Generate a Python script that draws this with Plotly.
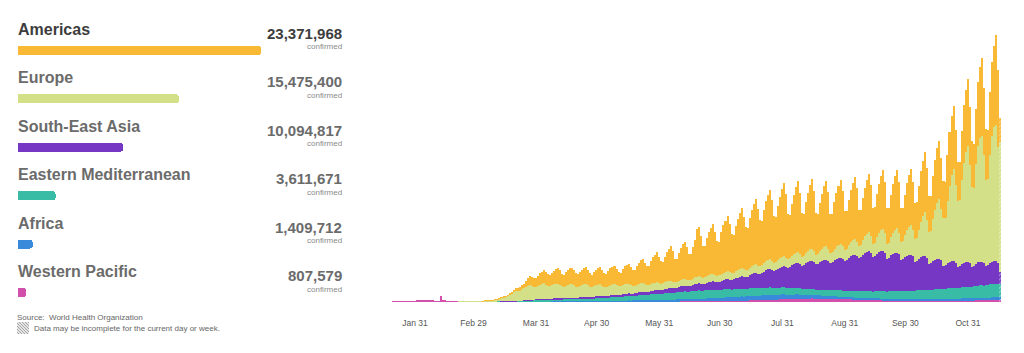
import plotly.graph_objects as go
import pandas as pd

# ---------------- data (daily new confirmed cases, thousands) ----------------
start_date = "2020-01-20"

regions = ["Americas", "Europe", "South-East Asia", "Eastern Mediterranean", "Africa", "Western Pacific"]
totals = [23371968, 15475400, 10094817, 3611671, 1409712, 807579]
total_labels = ["23,371,968", "15,475,400", "10,094,817", "3,611,671", "1,409,712", "807,579"]
colors = ["#F9B935", "#D3E087", "#7637C4", "#38BCA5", "#3A8ADC", "#D250AC"]

tick_dates = ["2020-01-31", "2020-02-29", "2020-03-31", "2020-04-30", "2020-05-31",
              "2020-06-30", "2020-07-31", "2020-08-31", "2020-09-30", "2020-10-31"]
tick_labels = ["Jan 31", "Feb 29", "Mar 31", "Apr 30", "May 31",
               "Jun 30", "Jul 31", "Aug 31", "Sep 30", "Oct 31"]

amr = [
    0, 0, 0, 0, 0, 0, 0,
    0, 0, 0, 0, 0, 0, 0,
    0, 0, 0, 0, 0, 0, 0,
    0, 0, 0, 0, 0, 0, 0,
    0, 0, 0, 0, 0, 0, 0,
    0, 0, 0, 0, 0, 0, 0,
    0, 0, 0, 0.1, 0.1, 0.1, 0.1,
    0.2, 0.2, 0.3, 0.4, 0.6, 0.8, 1.0,
    1.2, 1.6, 2.2, 3.5, 5.0, 7.0, 8.5,
    9, 11, 12, 16, 19, 21, 22,
    21, 22, 25, 28, 31, 34, 32,
    29, 28, 31, 34, 37, 40, 36,
    32, 30, 33, 36, 39, 41, 37,
    33, 31, 34, 37, 40, 42, 38,
    33, 31, 35, 38, 41, 43, 39,
    34, 32, 37, 41, 44, 45, 41,
    36, 34, 40, 45, 48, 50, 45,
    41, 39, 47, 53, 58, 60, 53,
    48, 46, 56, 64, 70, 76, 66,
    56, 53, 64, 73, 80, 86, 76,
    59, 57, 69, 79, 87, 93, 82,
    66, 64, 79, 94, 118, 124, 104,
    80, 77, 94, 108, 116, 124, 108,
    88, 84, 104, 118, 128, 138, 120,
    98, 93, 113, 128, 140, 150, 130,
    108, 103, 123, 140, 153, 163, 143,
    116, 110, 133, 150, 163, 173, 153,
    118, 113, 136, 153, 168, 183, 158,
    113, 108, 130, 148, 163, 176, 153,
    110, 106, 128, 146, 160, 173, 150,
    104, 99, 121, 138, 152, 163, 143,
    99, 95, 117, 133, 148, 158, 138,
    97, 94, 114, 130, 143, 155, 136,
    89, 87, 106, 122, 134, 145, 127,
    90, 88, 108, 124, 136, 147, 129,
    89, 87, 106, 122, 134, 144, 127,
    86, 84, 102, 118, 128, 138, 121,
    90, 88, 109, 127, 139, 150, 131,
    88, 86, 107, 124, 136, 145, 128,
    93, 90, 115, 134, 146, 157, 137,
    99, 96, 122, 144, 156, 168, 147,
    113, 108, 137, 161, 176, 195, 168,
    128, 123, 157, 186, 202, 225, 192,
    60,
]

eur = [
    0, 0, 0, 0, 0, 0, 0,
    0, 0, 0, 0, 0, 0, 0,
    0, 0, 0, 0, 0, 0, 0,
    0, 0, 0, 0, 0, 0, 0,
    0, 0, 0, 0, 0, 0.02, 0.05,
    0.1, 0.1, 0.15, 0.2, 0.3, 0.35, 0.4,
    0.5, 0.6, 0.9, 1.1, 1.5, 2.0, 2.5,
    3.0, 3.5, 4.5, 5.5, 7.0, 9.0, 10.5,
    11, 13, 16, 18, 22, 26, 24,
    25, 28, 30, 33, 36, 38, 35,
    32, 31, 34, 36, 37, 38, 35,
    32, 31, 33, 35, 36, 36, 34,
    30, 29, 31, 33, 34, 34, 32,
    28, 27, 29, 31, 32, 32, 30,
    26, 25, 27, 28, 29, 29, 27,
    24, 23, 25, 26, 27, 27, 25,
    22, 21, 23, 24, 24, 24, 22,
    19, 19, 20, 21, 21, 21, 20,
    17, 17, 18, 19, 19, 19, 18,
    16, 16, 17, 18, 18, 18, 17,
    15, 15, 16, 17, 17, 17, 16,
    15, 15, 16, 17, 18, 18, 17,
    16, 16, 17, 18, 18, 19, 17,
    16, 16, 17, 18, 19, 19, 18,
    17, 17, 18, 19, 20, 20, 19,
    18, 18, 19, 20, 21, 21, 20,
    19, 19, 21, 22, 23, 24, 22,
    20, 20, 22, 24, 25, 26, 24,
    21, 21, 23, 25, 26, 27, 25,
    22, 22, 25, 27, 29, 30, 27,
    24, 24, 27, 30, 32, 33, 30,
    25, 25, 29, 32, 34, 35, 32,
    27, 27, 31, 35, 38, 40, 35,
    30, 30, 36, 41, 45, 48, 42,
    34, 34, 41, 47, 52, 55, 48,
    38, 38, 46, 53, 58, 62, 54,
    44, 44, 54, 63, 70, 75, 66,
    58, 58, 72, 88, 100, 110, 95,
    82, 82, 105, 125, 140, 150, 128,
    120, 118, 155, 190, 215, 230, 195,
    165, 165, 210, 250, 275, 290, 245,
    200, 195, 250, 290, 310, 315, 270,
    215, 215, 270, 315, 335, 340, 290,
    325,
]

sear = [
    0, 0, 0, 0, 0, 0, 0,
    0, 0, 0, 0, 0, 0, 0,
    0, 0, 0, 0, 0, 0, 0,
    0, 0, 0, 0, 0, 0, 0,
    0, 0, 0, 0, 0, 0, 0,
    0, 0, 0, 0, 0, 0, 0,
    0, 0, 0, 0, 0, 0, 0,
    0, 0, 0, 0, 0, 0.1, 0.1,
    0.1, 0.1, 0.1, 0.2, 0.2, 0.3, 0.3,
    0.4, 0.4, 0.5, 0.6, 0.7, 0.8, 0.8,
    0.9, 1.0, 1.2, 1.5, 1.6, 1.8, 1.7,
    1.6, 1.7, 1.9, 2.0, 2.1, 2.2, 2.0,
    2.0, 2.1, 2.3, 2.5, 2.6, 2.7, 2.5,
    2.6, 2.7, 2.9, 3.1, 3.2, 3.3, 3.1,
    3.2, 3.3, 3.5, 3.8, 4.0, 4.2, 3.9,
    4.0, 4.3, 4.6, 5.0, 5.3, 5.5, 5.1,
    5.0, 5.2, 5.6, 6.0, 6.3, 6.5, 6.1,
    6.2, 6.5, 7.0, 7.5, 8.0, 8.2, 7.6,
    7.7, 8.0, 8.5, 9.0, 9.5, 9.8, 9.2,
    9.5, 9.8, 10.5, 11, 11.5, 12, 11.3,
    11.5, 12, 12.8, 13.5, 14, 14.5, 13.8,
    13.5, 14, 15, 16, 17, 17.5, 16.5,
    16.5, 17, 18.5, 19.5, 20.5, 21, 20,
    20, 21, 22.5, 24, 25, 26, 24.5,
    24, 25, 27, 28.5, 30, 31, 29.5,
    29, 30, 33, 35, 37, 38, 36,
    36, 38, 41, 44, 46, 47, 45,
    42, 44, 47, 50, 52, 53, 51,
    52, 54, 57, 60, 62, 63, 61,
    58, 60, 64, 67, 69, 70, 68,
    63, 65, 69, 72, 74, 75, 73,
    68, 70, 75, 78, 80, 82, 79,
    76, 78, 83, 87, 89, 91, 88,
    84, 86, 92, 96, 98, 100, 96,
    86, 88, 94, 98, 100, 101, 97,
    82, 84, 90, 93, 95, 96, 92,
    78, 80, 85, 88, 90, 90, 86,
    72, 74, 79, 82, 84, 84, 80,
    64, 66, 71, 74, 76, 76, 72,
    57, 59, 64, 66, 68, 68, 64,
    52, 54, 58, 61, 62, 62, 59,
    50, 52, 56, 58, 59, 59, 56,
    47, 49, 53, 55, 56, 56, 53,
    30,
]

emr = [
    0, 0, 0, 0, 0, 0, 0,
    0, 0, 0, 0, 0, 0, 0,
    0, 0, 0, 0, 0, 0, 0,
    0, 0, 0, 0, 0, 0, 0,
    0, 0, 0, 0, 0, 0, 0,
    0, 0.01, 0.02, 0.05, 0.1, 0.12, 0.15,
    0.3, 0.4, 0.6, 0.6, 1.0, 1.1, 1.2,
    0.6, 0.9, 1.1, 1.1, 1.2, 1.5, 1.4,
    1.4, 1.6, 1.5, 1.6, 1.9, 1.6, 1.8,
    1.9, 2.1, 2.3, 2.6, 3.0, 3.4, 3.3,
    3.4, 3.6, 3.8, 4.0, 4.2, 4.3, 4.2,
    4.1, 4.2, 4.3, 4.4, 4.5, 4.6, 4.4,
    4.6, 4.8, 5.0, 5.2, 5.5, 5.6, 5.4,
    5.6, 5.8, 6.0, 6.3, 6.6, 6.8, 6.5,
    6.8, 7.0, 7.3, 7.6, 7.9, 8.1, 7.8,
    8.0, 8.3, 8.6, 9.0, 9.3, 9.5, 9.1,
    9.5, 9.8, 10.2, 10.6, 11, 11.2, 10.8,
    11.2, 11.6, 12, 12.5, 13, 13.2, 12.8,
    13, 13.5, 14, 14.5, 15, 15.3, 14.8,
    15, 15.5, 16, 16.5, 17, 17.3, 16.8,
    17, 17.5, 18, 18.5, 19, 19.3, 18.8,
    19, 19.5, 20, 20.3, 20.6, 20.8, 20.3,
    20, 20.3, 20.6, 20.8, 21, 21, 20.5,
    19.5, 19.8, 20, 20.2, 20.3, 20.3, 19.8,
    19, 19.2, 19.4, 19.5, 19.6, 19.6, 19.2,
    18.5, 18.6, 18.8, 18.9, 19, 19, 18.6,
    17.8, 18, 18.2, 18.3, 18.4, 18.4, 18,
    17, 17.2, 17.4, 17.5, 17.6, 17.6, 17.2,
    16, 16.2, 16.4, 16.5, 16.6, 16.6, 16.2,
    15, 15.2, 15.4, 15.5, 15.6, 15.6, 15.2,
    14.5, 14.6, 14.8, 14.9, 15, 15, 14.7,
    14.5, 14.7, 15, 15.2, 15.4, 15.5, 15.2,
    15, 15.3, 15.6, 15.9, 16.2, 16.4, 16,
    16, 16.3, 16.7, 17, 17.3, 17.5, 17.1,
    17, 17.3, 17.7, 18, 18.3, 18.5, 18.1,
    18, 18.4, 18.8, 19.2, 19.5, 19.7, 19.3,
    19.5, 19.9, 20.3, 20.7, 21, 21.2, 20.8,
    21, 21.4, 21.8, 22.2, 22.5, 22.7, 22.3,
    22.5, 23, 23.5, 24, 24.3, 24.5, 24,
    24.5, 25, 25.5, 26, 26.4, 26.6, 26,
    26.5, 27, 27.6, 28.2, 28.6, 28.8, 28.2,
    29, 29.5, 30.2, 30.8, 31.2, 31.4, 30.8,
    32, 32.5, 33.2, 33.8, 34.2, 34.4, 33.8,
    34,
]

afr = [
    0, 0, 0, 0, 0, 0, 0,
    0, 0, 0, 0, 0, 0, 0,
    0, 0, 0, 0, 0, 0, 0,
    0, 0, 0, 0, 0, 0, 0,
    0, 0, 0, 0, 0, 0, 0,
    0, 0, 0, 0, 0, 0, 0,
    0, 0, 0, 0, 0, 0.01, 0.01,
    0.01, 0.02, 0.02, 0.03, 0.03, 0.05, 0.05,
    0.06, 0.08, 0.1, 0.12, 0.15, 0.2, 0.2,
    0.25, 0.3, 0.3, 0.35, 0.4, 0.4, 0.4,
    0.4, 0.45, 0.5, 0.5, 0.55, 0.5, 0.5,
    0.5, 0.5, 0.55, 0.6, 0.6, 0.6, 0.6,
    0.6, 0.65, 0.7, 0.7, 0.75, 0.8, 0.8,
    0.9, 0.9, 1.0, 1.0, 1.1, 1.1, 1.1,
    1.2, 1.2, 1.3, 1.4, 1.4, 1.5, 1.5,
    1.6, 1.7, 1.8, 1.9, 2.0, 2.0, 2.0,
    2.1, 2.2, 2.3, 2.4, 2.5, 2.5, 2.5,
    2.6, 2.7, 2.8, 2.9, 3.0, 3.1, 3.1,
    3.2, 3.3, 3.4, 3.5, 3.6, 3.7, 3.7,
    3.8, 3.9, 4.0, 4.2, 4.3, 4.4, 4.4,
    4.5, 4.6, 4.8, 5.0, 5.1, 5.2, 5.2,
    5.3, 5.5, 5.7, 5.9, 6.0, 6.2, 6.2,
    6.3, 6.5, 6.8, 7.0, 7.2, 7.4, 7.4,
    7.6, 7.8, 8.1, 8.4, 8.6, 8.8, 8.8,
    9.0, 9.3, 9.6, 9.9, 10.1, 10.3, 10.3,
    10.5, 10.8, 11.1, 11.4, 11.6, 11.8, 11.8,
    11.8, 12.0, 12.2, 12.4, 12.5, 12.6, 12.5,
    12, 12, 12.1, 12.2, 12.2, 12.2, 12,
    11.4, 11.3, 11.2, 11.1, 11, 10.9, 10.7,
    10, 9.8, 9.6, 9.4, 9.2, 9.0, 8.8,
    8.2, 8.0, 7.8, 7.6, 7.4, 7.2, 7.0,
    6.6, 6.4, 6.2, 6.0, 5.9, 5.8, 5.6,
    5.3, 5.2, 5.1, 5.0, 4.9, 4.8, 4.7,
    4.5, 4.4, 4.3, 4.2, 4.2, 4.1, 4.0,
    3.9, 3.9, 3.8, 3.8, 3.7, 3.7, 3.6,
    3.5, 3.5, 3.4, 3.4, 3.4, 3.3, 3.3,
    3.2, 3.2, 3.2, 3.2, 3.2, 3.2, 3.2,
    3.2, 3.3, 3.3, 3.4, 3.4, 3.5, 3.5,
    3.5, 3.6, 3.6, 3.7, 3.7, 3.8, 3.8,
    3.8, 3.9, 4.0, 4.0, 4.1, 4.1, 4.2,
    4.2, 4.3, 4.4, 4.4, 4.5, 4.6, 4.6,
    4.7, 4.8, 4.9, 5.0, 5.1, 5.1, 5.2,
    5.3, 5.4, 5.5, 5.6, 5.7, 5.8, 5.8,
    5.5,
]

wpr = [
    0.1, 0.15, 0.15, 0.26, 0.45, 0.69, 0.77,
    1.77, 1.46, 1.74, 1.98, 2.1, 2.6, 2.83,
    3.24, 3.89, 3.7, 3.15, 3.4, 2.66, 3.0,
    2.48, 2.02, 1.82, 15.1, 5.1, 2.64, 2.01,
    2.05, 1.89, 1.75, 0.82, 0.89, 0.65, 0.65,
    0.41, 0.51, 0.41, 0.43, 0.33, 0.43, 0.6,
    0.7, 0.8, 0.6, 0.6, 0.5, 0.5, 0.4,
    0.3, 0.3, 0.25, 0.2, 0.2, 0.2, 0.2,
    0.2, 0.25, 0.3, 0.35, 0.4, 0.5, 0.5,
    0.6, 0.7, 0.8, 0.9, 1.0, 1.1, 1.1,
    1.2, 1.3, 1.4, 1.5, 1.6, 1.7, 1.6,
    1.8, 1.9, 2.0, 2.1, 2.2, 2.2, 2.0,
    2.0, 2.1, 2.1, 2.0, 2.0, 1.9, 1.8,
    1.6, 1.5, 1.5, 1.4, 1.4, 1.3, 1.2,
    1.2, 1.1, 1.1, 1.0, 1.0, 1.0, 0.9,
    0.9, 0.9, 1.0, 1.0, 1.0, 1.1, 1.0,
    1.1, 1.1, 1.2, 1.2, 1.2, 1.3, 1.2,
    1.2, 1.3, 1.3, 1.3, 1.4, 1.4, 1.3,
    1.3, 1.4, 1.4, 1.5, 1.5, 1.5, 1.4,
    1.5, 1.6, 1.6, 1.7, 1.7, 1.8, 1.7,
    1.7, 1.8, 1.8, 1.9, 1.9, 2.0, 1.9,
    1.9, 2.0, 2.0, 2.1, 2.1, 2.2, 2.1,
    2.1, 2.2, 2.3, 2.3, 2.4, 2.5, 2.4,
    2.4, 2.5, 2.6, 2.7, 2.8, 2.9, 2.8,
    2.9, 3.0, 3.1, 3.3, 3.4, 3.5, 3.4,
    3.5, 3.7, 3.9, 4.1, 4.2, 4.4, 4.2,
    4.4, 4.6, 4.8, 5.1, 5.3, 5.5, 5.3,
    5.5, 5.8, 6.1, 6.4, 6.7, 6.9, 6.6,
    6.8, 7.0, 7.3, 7.6, 7.9, 8.1, 7.8,
    7.9, 8.1, 8.3, 8.5, 8.7, 8.8, 8.5,
    8.3, 8.4, 8.5, 8.6, 8.7, 8.7, 8.4,
    8.0, 7.9, 7.9, 7.8, 7.7, 7.6, 7.3,
    6.9, 6.8, 6.7, 6.6, 6.5, 6.4, 6.1,
    5.8, 5.7, 5.7, 5.6, 5.6, 5.5, 5.3,
    5.1, 5.1, 5.0, 5.0, 5.0, 4.9, 4.7,
    4.6, 4.6, 4.5, 4.5, 4.5, 4.5, 4.3,
    4.2, 4.2, 4.2, 4.2, 4.2, 4.3, 4.1,
    4.0, 4.1, 4.1, 4.2, 4.2, 4.3, 4.1,
    4.0, 4.1, 4.1, 4.2, 4.2, 4.3, 4.1,
    4.1, 4.2, 4.3, 4.4, 4.4, 4.5, 4.3,
    4.3, 4.4, 4.5, 4.6, 4.7, 4.8, 4.6,
    4.7, 4.8, 5.0, 5.1, 5.2, 5.3, 5.1,
    5.2, 5.4, 5.6, 5.8, 5.9, 6.0, 5.8,
    6.0,
]

series = [amr, eur, sear, emr, afr, wpr]
n_days = len(amr)
for s in series:
    assert len(s) == n_days, len(s)
dates = pd.date_range(start_date, periods=n_days).strftime("%Y-%m-%d").tolist()

# ---------------- layout helpers (pixels -> paper) ----------------
W, H = 1024, 353
def px_x(x):
    return x / W
def px_y(y):
    return 1 - y / H

base = pd.Timestamp("2020-01-31")
px_per_day = 2.018
r0 = base + pd.Timedelta(days=(375 - 415) / px_per_day)
r1 = base + pd.Timedelta(days=(1010 - 415) / px_per_day)

fig = go.Figure()

# stacked daily bars: bottom to top
order = [5, 4, 3, 2, 1, 0]
pattern_shapes = [""] * (n_days - 1) + ["/"]
for i in order:
    fig.add_trace(go.Bar(
        x=dates, y=series[i], name=regions[i],
        marker=dict(color=colors[i], line=dict(width=0),
                    pattern=dict(shape=pattern_shapes, fgcolor="white", size=3, solidity=0.35)),
        hoverinfo="skip", showlegend=False,
        xaxis="x", yaxis="y",
    ))

# left summary bars
fig.add_trace(go.Bar(
    x=totals, y=list(range(len(regions))), orientation="h",
    width=0.186,
    marker=dict(color=colors, cornerradius=3, line=dict(width=0)),
    hoverinfo="skip", showlegend=False,
    xaxis="x2", yaxis="y2",
))

annotations = []
name_colors = ["#3d3d3d"] + ["#6b6b6b"] * 5
for i, reg in enumerate(regions):
    annotations.append(dict(
        x=px_x(16), xref="paper", y=i, yref="y2", yshift=21,
        text=f"<b>{reg}</b>", showarrow=False, xanchor="left", yanchor="middle",
        font=dict(family="Liberation Sans, Arial, sans-serif", size=16, color=name_colors[i]),
    ))
    annotations.append(dict(
        x=px_x(344), xref="paper", y=i, yref="y2", yshift=17,
        text=f"<b>{total_labels[i]}</b>", showarrow=False, xanchor="right", yanchor="middle",
        font=dict(family="Liberation Sans, Arial, sans-serif", size=15, color=name_colors[i]),
    ))
    annotations.append(dict(
        x=px_x(344), xref="paper", y=i, yref="y2", yshift=3.5,
        text="confirmed", showarrow=False, xanchor="right", yanchor="middle",
        font=dict(family="Liberation Sans, Arial, sans-serif", size=8, color="#8a8a8a"),
    ))

annotations.append(dict(
    x=px_x(15), xref="paper", y=px_y(317.5), yref="paper",
    text="Source:  World Health Organization", showarrow=False,
    xanchor="left", yanchor="middle",
    font=dict(family="Liberation Sans, Arial, sans-serif", size=8, color="#666666"),
))
annotations.append(dict(
    x=px_x(32), xref="paper", y=px_y(328), yref="paper",
    text="Data may be incomplete for the current day or week.", showarrow=False,
    xanchor="left", yanchor="middle",
    font=dict(family="Liberation Sans, Arial, sans-serif", size=8, color="#666666"),
))

# hatched legend square
shapes = []
sx0, sy0, side = 17, 322, 12
shapes.append(dict(type="rect", xref="paper", yref="paper",
                   x0=px_x(sx0), x1=px_x(sx0 + side), y0=px_y(sy0 + side), y1=px_y(sy0),
                   fillcolor="#e4e4e4", line=dict(width=0)))
for c in range(2, 2 * side, 3):
    u1 = max(0, c - side)
    u2 = min(side, c)
    shapes.append(dict(type="line", xref="paper", yref="paper",
                       x0=px_x(sx0 + u1), y0=px_y(sy0 + side - (c - u1)),
                       x1=px_x(sx0 + u2), y1=px_y(sy0 + side - (c - u2)),
                       line=dict(color="#a8a8a8", width=1)))

fig.update_layout(
    width=W, height=H,
    margin=dict(l=0, r=0, t=0, b=0),
    paper_bgcolor="white", plot_bgcolor="white",
    barmode="stack", bargap=0.22,
    xaxis=dict(domain=[px_x(375), px_x(1010)], type="date",
               range=[r0.strftime("%Y-%m-%d %H:%M:%S"), r1.strftime("%Y-%m-%d %H:%M:%S")],
               tickvals=tick_dates, ticktext=tick_labels,
               showgrid=False, zeroline=False, showline=False,
               ticks="outside", ticklen=13, tickcolor="rgba(0,0,0,0)",
               tickfont=dict(family="Liberation Sans, Arial, sans-serif", size=8.5, color="#555555"),
               anchor="y", fixedrange=True),
    yaxis=dict(domain=[px_y(302), px_y(30)], range=[0, 680], visible=False,
               anchor="x", fixedrange=True),
    xaxis2=dict(domain=[px_x(18), px_x(261)], range=[0, totals[0]], visible=False,
                anchor="y2", fixedrange=True),
    yaxis2=dict(domain=[px_y(316.7), px_y(26.3)], range=[5.5, -0.5], visible=False,
                anchor="x2", fixedrange=True),
    annotations=annotations,
    shapes=shapes,
    showlegend=False,
)

fig.write_html("out.html", config={"displayModeBar": False})
